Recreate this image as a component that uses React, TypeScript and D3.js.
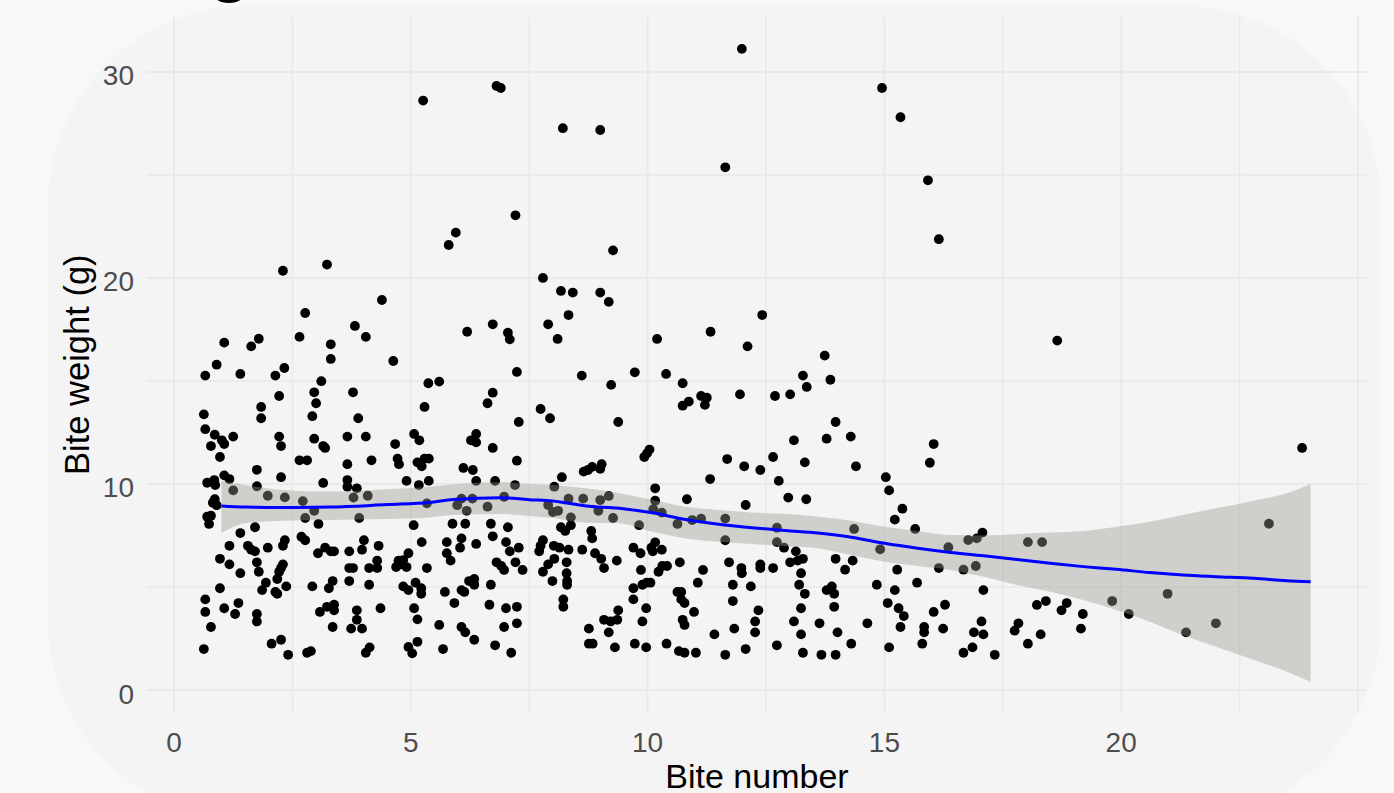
import React from 'react';
import * as d3 from 'd3';

// ---- axis ticks / grid ----
const xMajorTicks = [0, 5, 10, 15, 20];
const xMinorGrid = [2.5, 7.5, 12.5, 17.5, 22.5, 25];
const yMajorTicks = [0, 10, 20, 30];
const yMinorGrid = [5, 15, 25];

// ---- loess fit (blue line) and its confidence band ----
const smoothX = [1.0, 1.5, 2.3, 3.3, 4.5, 5.4, 5.9, 6.9, 7.5, 8.0, 8.7, 9.4, 10.1, 10.8, 11.5, 12.2, 12.9, 13.6, 14.3, 15.0, 15.7, 16.4, 17.1, 17.8, 18.5, 19.2, 19.9, 20.6, 21.3, 22.0, 22.8, 23.5, 24.0];
const smoothFit = [8.93, 8.88, 8.86, 8.88, 9.0, 9.1, 9.25, 9.33, 9.24, 9.18, 8.93, 8.82, 8.6, 8.28, 8.05, 7.88, 7.74, 7.62, 7.42, 7.12, 6.88, 6.68, 6.52, 6.33, 6.15, 5.99, 5.86, 5.7, 5.58, 5.5, 5.42, 5.3, 5.25];
const smoothUpper = [10.16, 9.95, 9.71, 9.63, 9.75, 9.87, 9.98, 10.08, 10.0, 9.95, 9.79, 9.55, 9.22, 8.9, 8.74, 8.62, 8.55, 8.41, 8.22, 7.93, 7.72, 7.52, 7.5, 7.57, 7.64, 7.72, 7.93, 8.17, 8.5, 8.82, 9.19, 9.55, 10.0];
const smoothLower = [7.61, 8.09, 8.22, 8.25, 8.3, 8.38, 8.5, 8.54, 8.45, 8.35, 8.12, 8.09, 7.68, 7.36, 7.2, 7.09, 6.99, 6.88, 6.55, 6.23, 6.02, 5.83, 5.5, 5.1, 4.77, 4.37, 3.88, 3.32, 2.67, 2.1, 1.46, 0.89, 0.4];

// ---- observations: [bite number (jittered), bite weight g] ----
const bitesEarly: [number, number][] = [
  [2.30,20.35],[3.23,20.65],[4.39,18.93],[2.77,18.30],[1.06,16.86],[1.79,17.05],[1.63,16.68],[2.65,17.14],[3.82,17.67],[4.05,17.14],
  [3.31,16.78],[3.31,16.07],[0.90,15.79],[0.66,15.26],[1.40,15.34],[2.14,15.26],[2.33,15.63],[3.11,14.99],[2.96,14.45],[3.78,14.45],
  [2.22,14.27],[3.00,13.92],[1.84,13.74],[1.84,13.19],[0.63,13.38],[2.92,13.29],[3.89,13.19],[0.66,12.66],[0.86,12.39],[1.25,12.30],
  [1.01,12.12],[1.06,11.94],[0.78,11.84],[2.22,12.30],[2.26,11.84],[2.96,12.20],[3.15,11.84],[3.19,11.75],[3.66,12.30],[4.05,12.30],
  [0.97,11.31],[2.65,11.15],[2.81,11.15],[4.17,11.15],[3.66,10.96],[1.75,10.69],[2.26,10.33],[1.06,10.42],[1.17,10.24],[0.70,10.06],
  [0.85,10.19],[0.87,9.95],[1.75,9.89],[3.15,10.05],[3.66,10.19],[3.66,9.87],[3.86,9.79],[1.25,9.69],[1.98,9.43],[2.34,9.35],
  [2.72,9.17],[2.96,8.70],[2.77,8.35],[3.79,9.34],[4.09,9.43],[3.91,8.35],[0.82,9.09],[0.90,8.97],[0.86,9.26],[0.70,8.41],
  [0.74,8.06],[0.78,8.46],[3.05,8.06],[1.71,7.90],[1.40,7.62],[1.17,7.00],[1.56,7.00],[1.63,6.81],[1.71,6.73],[1.98,6.91],
  [2.30,7.00],[2.34,7.27],[2.69,7.44],[2.77,7.27],[3.04,6.64],[3.19,6.91],[3.31,6.73],[3.38,6.73],[3.70,6.73],[4.01,7.27],
  [3.97,6.81],[4.32,7.00],[0.97,6.37],[1.17,6.10],[1.75,6.20],[1.79,5.74],[1.40,5.67],[2.30,6.10],[2.26,5.92],[2.22,5.74],
  [3.70,5.92],[3.78,5.92],[4.12,5.92],[4.29,6.28],[4.29,5.92],[1.94,5.21],[1.86,4.85],[2.18,5.39],[2.14,4.76],[2.18,4.67],
  [2.37,5.03],[0.97,4.94],[2.92,5.03],[3.35,5.29],[3.27,4.94],[3.70,5.29],[4.12,5.11],[0.66,4.40],[0.66,3.79],[1.06,3.97],
  [1.36,4.22],[1.29,3.69],[1.75,3.69],[1.75,3.33],[0.78,3.06],[3.08,3.79],[3.23,4.04],[3.38,4.14],[3.38,3.87],[3.35,3.06],
  [3.86,3.87],[3.86,3.41],[3.74,2.98],[3.97,2.98],[4.36,3.97],[0.63,1.99],[2.06,2.25],[2.26,2.44],[2.41,1.71],[2.81,1.81],
  [2.89,1.89],[4.05,1.81],[4.13,2.07],
];

const bitesMid: [number, number][] = [
  [5.95,22.20],[5.80,21.60],[7.79,20.00],[8.17,19.37],[8.42,19.29],[8.33,18.20],[7.90,17.75],[8.10,17.04],[6.73,17.75],[6.19,17.39],
  [7.05,17.34],[7.09,17.02],[4.63,15.97],[7.24,15.44],[8.61,15.26],[5.37,14.89],[5.60,14.97],[6.73,14.43],[6.62,13.92],[5.29,13.74],
  [7.74,13.64],[7.94,13.19],[7.28,13.01],[5.07,12.43],[5.18,12.12],[4.67,11.94],[6.27,12.12],[6.38,12.43],[6.38,12.02],[6.73,11.75],
  [4.72,11.23],[4.75,10.96],[5.14,11.05],[5.23,10.86],[5.29,11.23],[5.38,11.23],[7.24,11.13],[6.11,10.78],[6.31,10.68],[4.91,10.15],
  [5.17,9.95],[5.38,10.15],[6.38,10.15],[6.78,10.15],[7.20,9.95],[8.19,10.33],[8.03,9.87],[8.65,10.60],[5.34,9.06],[5.98,8.97],
  [6.07,9.29],[6.18,8.70],[6.30,9.29],[6.62,8.90],[6.97,9.38],[7.90,8.98],[8.00,8.64],[8.11,8.70],[8.33,9.29],[8.38,8.38],
  [8.64,9.29],[5.06,8.00],[5.88,8.07],[6.15,8.07],[6.69,8.07],[7.05,7.90],[8.17,7.90],[8.26,7.72],[8.38,8.00],[5.23,7.18],
  [5.76,7.18],[6.07,7.36],[6.04,6.91],[6.38,7.09],[6.73,7.46],[7.01,7.18],[7.09,6.73],[7.28,6.91],[7.79,7.27],[7.74,7.00],
  [7.71,6.73],[8.02,7.00],[8.14,6.91],[8.33,6.81],[8.62,6.81],[4.95,6.64],[4.74,6.28],[4.79,6.10],[4.91,5.97],[4.69,5.97],
  [4.84,6.31],[5.34,5.92],[5.76,6.64],[5.84,6.28],[6.81,6.20],[6.91,6.02],[6.97,5.83],[7.21,6.20],[7.36,5.83],[7.79,5.74],
  [7.90,6.10],[8.03,6.37],[8.29,6.20],[8.29,5.67],[8.30,5.29],[8.30,5.11],[7.99,5.29],[4.84,5.03],[4.95,4.85],[5.10,5.21],
  [5.22,4.94],[5.22,4.67],[5.72,4.76],[6.07,4.85],[6.13,4.76],[6.23,5.29],[6.34,5.39],[6.34,5.11],[6.69,5.11],[5.92,4.22],
  [6.66,4.14],[7.01,3.97],[7.24,4.04],[8.22,4.40],[8.22,4.04],[5.07,3.97],[5.14,3.43],[5.60,3.16],[6.07,3.06],[6.15,2.80],
  [6.34,2.44],[6.97,3.06],[7.24,3.24],[5.14,2.34],[4.95,2.09],[5.03,1.78],[5.68,1.99],[6.78,2.17],[7.12,1.81],
];

const bitesLate: [number, number][] = [
  [9.27,21.34],[9.00,19.29],[9.18,18.84],[12.42,18.20],[11.33,17.39],[10.20,17.04],[12.11,16.68],[9.73,15.42],[10.39,15.34],[9.23,14.81],
  [10.74,14.89],[11.13,14.27],[11.25,14.19],[11.21,13.84],[10.74,13.80],[10.87,14.00],[11.95,14.35],[12.69,14.27],[9.38,13.01],[10.04,11.67],
  [9.93,11.31],[9.99,11.49],[8.74,10.68],[8.83,10.83],[9.00,10.74],[9.03,10.96],[11.68,11.21],[12.04,10.86],[12.38,10.68],[12.65,11.31],
  [12.77,10.15],[11.32,10.24],[10.16,9.79],[9.18,9.42],[9.00,9.22],[8.96,8.70],[9.27,8.35],[9.82,8.00],[10.16,9.19],[10.12,8.77],
  [10.30,8.61],[10.83,9.26],[10.63,8.06],[10.94,8.25],[11.13,8.32],[11.64,8.32],[11.64,7.27],[12.07,8.98],[12.73,7.88],[12.73,7.18],
  [12.88,6.91],[8.81,7.72],[8.83,7.36],[8.89,6.64],[9.02,6.37],[9.08,5.92],[9.35,6.28],[9.70,6.91],[9.85,6.64],[10.11,6.73],
  [10.16,7.17],[10.08,6.91],[10.30,6.81],[9.86,5.83],[10.23,5.74],[10.31,6.02],[10.41,6.02],[10.68,6.20],[11.17,5.83],[11.72,6.20],
  [11.98,5.92],[11.99,5.67],[12.38,6.10],[12.38,5.92],[12.65,5.92],[9.70,4.94],[9.89,5.11],[9.98,5.21],[10.06,5.21],[11.06,5.21],
  [11.80,5.11],[12.18,5.03],[9.70,4.40],[9.97,3.97],[10.63,4.76],[10.71,4.76],[10.71,4.40],[10.78,4.22],[10.98,3.79],[11.80,4.32],
  [12.34,3.87],[9.38,3.87],[9.08,3.41],[9.22,3.33],[9.36,3.41],[8.76,2.98],[9.18,2.80],[9.89,3.33],[10.74,3.41],[10.78,3.16],
  [11.41,2.70],[11.83,2.98],[12.27,3.33],[12.27,2.80],[8.76,2.25],[8.84,2.25],[9.31,2.07],[9.73,2.25],[9.97,2.07],[10.40,2.25],
  [10.66,1.89],[10.78,1.81],[11.02,1.81],[11.64,1.71],[12.07,1.99],[12.73,2.17],
];

const bitesEnd: [number, number][] = [
  [16.15,21.88],[13.74,16.23],[13.28,15.26],[13.36,14.71],[13.86,15.06],[13.01,14.35],[13.97,13.01],[13.09,12.12],[13.78,12.20],[14.29,12.30],
  [13.32,11.05],[14.40,10.86],[16.04,11.94],[15.96,11.03],[15.03,10.33],[15.10,9.69],[12.97,9.34],[13.35,9.26],[15.38,8.80],[15.22,8.27],
  [14.36,7.82],[15.65,7.82],[14.91,6.83],[16.35,6.93],[16.77,7.28],[16.95,7.36],[17.07,7.64],[16.15,5.92],[16.67,5.84],[16.93,6.02],
  [13.13,6.73],[13.01,6.20],[13.17,6.28],[13.28,6.37],[13.24,5.67],[13.20,5.11],[13.32,4.67],[13.24,3.97],[13.09,3.33],[13.24,2.70],
  [13.28,1.81],[13.97,6.37],[14.17,5.84],[14.33,6.28],[13.78,4.85],[13.89,5.03],[13.94,4.67],[13.94,4.04],[13.63,3.24],[14.01,2.80],
  [14.30,2.25],[13.67,1.71],[13.97,1.71],[14.64,3.24],[14.84,5.11],[15.27,5.84],[15.22,4.85],[15.07,4.22],[15.30,3.97],[15.41,3.59],
  [15.34,3.06],[15.10,2.07],[15.69,5.21],[16.28,4.14],[16.04,3.79],[15.84,3.06],[15.84,2.80],[15.80,2.25],[16.24,2.98],[16.67,1.81],
  [16.86,2.07],[16.89,2.80],[17.05,3.33],[17.09,4.85],[17.09,2.70],
  [18.65,16.96],[23.82,11.75],[18.03,7.18],[18.33,7.18],[23.12,8.07],[18.22,4.13],[18.41,4.32],[18.85,4.22],[18.74,3.87],[19.19,3.69],
  [19.15,2.98],[17.83,3.24],[17.75,2.88],[18.30,2.70],[18.03,2.25],[17.33,1.71],[19.81,4.32],[20.16,3.69],[20.98,4.67],[21.37,2.80],
  [22.00,3.24],
];

const bitesHeavy: [number, number][] = [
  [5.26,28.61],[6.81,29.32],[6.90,29.22],[8.21,27.27],[9.00,27.18],[7.21,23.04],[11.99,31.12],[14.95,29.22],[15.34,27.80],[11.64,25.37],[15.92,24.74],
];

const titleText = 'Eating behaviour';
const xTitle = 'Bite number';
const yTitle = 'Bite weight (g)';

const FONT = '"Liberation Sans", Arial, Helvetica, sans-serif';

export default function App() {
  const W = 1394;
  const H = 793;
  const panel = { left: 147.5, right: 1366.5, top: 16.7, bottom: 712.7 };

  const x = d3.scaleLinear().domain([-0.56, 25.18]).range([panel.left, panel.right]);
  const y = d3.scaleLinear().domain([-1.1, 32.68]).range([panel.bottom, panel.top]);

  const points = [...bitesEarly, ...bitesMid, ...bitesLate, ...bitesEnd, ...bitesHeavy];
  const smooth = smoothX.map((v, i) => ({ x: v, fit: smoothFit[i], lo: smoothLower[i], hi: smoothUpper[i] }));

  const band = d3
    .area<{ x: number; fit: number; lo: number; hi: number }>()
    .x((d) => x(d.x))
    .y0((d) => y(d.lo))
    .y1((d) => y(d.hi))
    .curve(d3.curveMonotoneX);
  const fitLine = d3
    .line<{ x: number; fit: number; lo: number; hi: number }>()
    .x((d) => x(d.x))
    .y((d) => y(d.fit))
    .curve(d3.curveMonotoneX);

  const gridColor = '#e9e9e9';

  return (
    <svg
      width={W}
      height={H}
      viewBox={`0 0 ${W} ${H}`}
      style={{ position: 'fixed', left: 0, top: 0, display: 'block' }}
    >
      <rect x={0} y={0} width={W} height={H} fill="#f8f8f7" />
      <rect x={48} y={6} width={1333} height={814} rx={200} ry={200} fill="#f4f4f4" />

      <text x={30} y={-13} fontFamily={FONT} fontSize={78} fill="#000">
        {titleText}
      </text>

      {/* grid */}
      <g>
        {yMinorGrid.map((v) => (
          <line key={`ymn${v}`} x1={panel.left} x2={panel.right} y1={y(v)} y2={y(v)} stroke={gridColor} strokeWidth={1.6} />
        ))}
        {xMinorGrid.map((v) => (
          <line key={`xmn${v}`} x1={x(v)} x2={x(v)} y1={panel.top} y2={panel.bottom} stroke={gridColor} strokeWidth={1.6} />
        ))}
        {yMajorTicks.map((v) => (
          <line key={`ymj${v}`} x1={panel.left} x2={panel.right} y1={y(v)} y2={y(v)} stroke={gridColor} strokeWidth={2} />
        ))}
        {xMajorTicks.map((v) => (
          <line key={`xmj${v}`} x1={x(v)} x2={x(v)} y1={panel.top} y2={panel.bottom} stroke={gridColor} strokeWidth={2} />
        ))}
      </g>

      {/* points */}
      <g>
        {points.map((p, i) => (
          <circle key={i} cx={x(p[0])} cy={y(p[1])} r={4.9} fill="#000" />
        ))}
      </g>

      {/* smooth */}
      <path d={band(smooth) || ''} fill="#999992" fillOpacity={0.4} />
      <path d={fitLine(smooth) || ''} fill="none" stroke="#0000ff" strokeWidth={3} />

      {/* axis labels */}
      <g fontFamily={FONT} fontSize={28} fill="#4d4d4d">
        {yMajorTicks.map((v) => (
          <text key={`yl${v}`} x={134} y={y(v) + 13.5} textAnchor="end">
            {v}
          </text>
        ))}
        {xMajorTicks.map((v) => (
          <text key={`xl${v}`} x={x(v)} y={752} textAnchor="middle">
            {v}
          </text>
        ))}
      </g>

      <text x={(panel.left + panel.right) / 2} y={788} textAnchor="middle" fontFamily={FONT} fontSize={34} fill="#000">
        {xTitle}
      </text>
      <text
        transform={`translate(89, ${(panel.top + panel.bottom) / 2}) rotate(-90)`}
        textAnchor="middle"
        fontFamily={FONT}
        fontSize={34.5}
        fill="#000"
      >
        {yTitle}
      </text>
    </svg>
  );
}
